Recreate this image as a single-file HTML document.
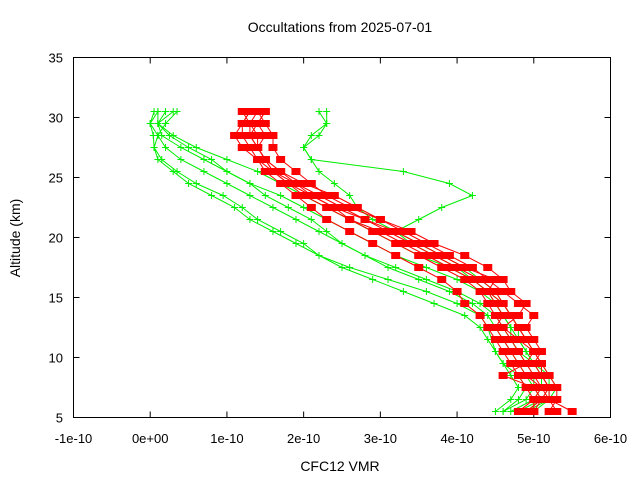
<!DOCTYPE html>
<html><head><meta charset="utf-8"><style>
body{margin:0;background:#fff}
svg{display:block;font-family:"Liberation Sans",sans-serif}
</style></head><body>
<svg id="chart" width="640" height="480" viewBox="0 0 640 480">
<rect width="640" height="480" fill="#fff"/>
<text x="340" y="32" font-size="14" text-anchor="middle">Occultations from 2025-07-01</text>
<text x="340" y="471" font-size="14" text-anchor="middle">CFC12 VMR</text>
<text x="20" y="238" font-size="14" text-anchor="middle" transform="rotate(-90 20 238)">Altitude (km)</text>
<g id="axes"></g>
<g id="marks"></g>
<rect x="73.5" y="57.5" width="537" height="360" fill="none" stroke="#000" stroke-width="1"/>
</svg>
<script>
const xTicks=[-1,0,1,2,3,4,5,6];
const xTickLabels=["-1e-10","0e+00","1e-10","2e-10","3e-10","4e-10","5e-10","6e-10"];
const yTicks=[5,10,15,20,25,30,35];
const altitudes=[5.5,6.5,7.5,8.5,9.5,10.5,11.5,12.5,13.5,14.5,15.5,16.5,17.5,18.5,19.5,20.5,21.5,22.5,23.5,24.5,25.5,26.5,27.5,28.5,29.5,30.5];
const green1=[4.6,4.8,4.9,4.8,4.6,4.5,4.4,4.3,4.1,3.7,3.3,2.9,2.5,2.2,2.0,1.7,1.4,1.2,0.95,0.6,0.35,0.15,0.05,0.04,0.0,0.05];
const green2=[4.6,4.9,5.0,5.0,4.9,4.8,4.7,4.6,4.5,4.3,4.0,3.6,3.2,2.8,2.5,2.2,1.9,1.6,1.3,1.0,0.7,0.4,0.2,0.1,0.0,0.1];
const green3=[4.7,5.0,5.1,5.1,5.0,4.9,4.8,4.7,4.6,4.5,4.3,4.0,3.6,3.2,2.9,2.6,2.3,2.0,1.7,1.3,1.0,0.7,0.4,0.15,0.1,0.2];
const green4=[4.8,5.1,5.2,5.2,5.1,5.0,4.9,4.8,4.7,4.6,4.4,4.2,3.9,3.5,3.2,2.9,2.6,2.3,2.0,1.7,1.4,1.0,0.6,0.3,0.1,0.3];
const green5=[4.9,5.2,5.2,5.1,5.0,4.8,4.7,4.7,4.6,4.5,4.4,4.2,4.0,3.7,3.4,3.2,3.5,3.8,4.2,3.9,3.3,2.1,2.0,2.1,2.3,2.3];
const green6=[4.5,4.7,4.8,4.7,4.6,4.5,4.45,4.4,4.3,4.0,3.6,3.1,2.6,2.2,1.9,1.6,1.3,1.1,0.8,0.5,0.3,0.1,0.05,0.1,0.2,0.35];
const green7=[4.9,5.1,5.0,4.9,4.8,4.7,4.6,4.5,4.4,4.2,3.9,3.5,3.1,2.8,2.5,2.3,2.1,1.8,1.5,1.3,1.0,0.8,0.5,0.25,0.1,0.1];
const green8=[5.0,5.2,5.3,5.2,5.0,4.9,4.8,4.8,4.7,4.6,4.5,4.3,4.1,3.8,3.5,3.2,2.9,2.7,2.6,2.4,2.2,2.1,2.0,2.2,2.3,2.2];
const red1=[4.9,5.1,5.2,5.1,5.1,5.0,4.9,4.8,4.7,4.6,4.4,4.2,3.9,3.6,3.3,3.0,2.6,2.3,2.0,1.8,1.6,1.5,1.4,1.3,1.3,1.2];
const red2=[5.2,5.3,5.3,5.2,5.1,5.0,4.9,4.8,4.7,4.6,4.5,4.3,4.0,3.7,3.4,3.1,2.8,2.5,2.2,1.9,1.7,1.5,1.4,1.4,1.3,1.4];
const red3=[5.5,5.2,5.1,5.0,4.9,4.8,4.7,4.6,4.5,4.4,4.3,4.1,3.8,3.5,3.2,2.9,2.6,2.4,2.1,1.8,1.6,1.4,1.3,1.2,1.2,1.3];
const red4=[5.0,5.1,5.0,4.6,4.9,5.0,4.8,4.6,4.8,4.9,4.7,4.6,4.4,4.1,3.7,3.4,3.0,2.7,2.4,2.0,1.7,1.5,1.4,1.3,1.4,1.5];
const red5=[5.3,5.2,5.2,5.1,5.0,5.1,5.0,4.9,5.0,4.8,4.6,4.4,4.2,3.9,3.6,3.3,3.0,2.6,2.3,2.1,1.9,1.7,1.6,1.6,1.5,1.4];
const red6=[5.0,5.0,4.9,4.8,4.7,4.6,4.5,4.4,4.3,4.1,4.0,3.8,3.5,3.2,2.9,2.6,2.3,2.1,1.9,1.7,1.5,1.4,1.2,1.1,1.2,1.3];
const red7=[4.8,5.0,5.1,4.9,4.8,4.7,4.6,4.5,4.6,4.5,4.4,4.5,4.1,3.8,3.5,3.2,2.8,2.4,2.1,1.9,1.6,1.5,1.4,1.5,1.4,1.5];
const greenSeries=[green1,green2,green3,green4,green5,green6,green7,green8];
const redSeries=[red1,red2,red3,red4,red5,red6,red7];

const NS="http://www.w3.org/2000/svg";
const X0=73.5,X1=610.5,Y0=417.5,Y1=57.5;
function xs(v){return X0+(v+1)/7*(X1-X0);}
function ys(v){return Y0-(v-5)/30*(Y0-Y1);}
function mk(tag,attrs,parent){const e=document.createElementNS(NS,tag);for(const k in attrs)e.setAttribute(k,attrs[k]);parent.appendChild(e);return e;}
const axes=document.getElementById('axes'),marks=document.getElementById('marks');
xTicks.forEach((t,i)=>{
  const x=xs(t);
  const l1=mk('line',{x1:x,x2:x,y1:Y0,y2:Y0-6,stroke:'#000'},axes);
  
  
  const l2=mk('line',{x1:x,x2:x,y1:Y1,y2:Y1+6,stroke:'#000'},axes);
  
  
  const tx=mk('text',{x:x,y:443,'font-size':13,'text-anchor':'middle'},axes);
  tx.textContent=xTickLabels[i];
  
  
});
yTicks.forEach(t=>{
  const y=ys(t);
  const l1=mk('line',{x1:X0,x2:X0+6,y1:y,y2:y,stroke:'#000'},axes);
  
  
  const l2=mk('line',{x1:X1,x2:X1-6,y1:y,y2:y,stroke:'#000'},axes);
  
  
  const tx=mk('text',{x:63,y:y+5,'font-size':13,'text-anchor':'end'},axes);
  tx.textContent=String(t);
  
  
});
greenSeries.forEach((s,k)=>{
  const pts=s.map((v,i)=>xs(v).toFixed(1)+','+ys(altitudes[i]).toFixed(1)).join(' ');
  const pl=mk('polyline',{points:pts,fill:'none',stroke:'#00ee00','stroke-width':1},marks);
  
  
  s.forEach((v,i)=>{
    const x=xs(v),y=ys(altitudes[i]);
    const p=mk('path',{d:`M${x-3.5},${y}H${x+3.5}M${x},${y-3.5}V${y+3.5}`,stroke:'#00ee00','stroke-width':1},marks);
    
    
  });
});
redSeries.forEach((s,k)=>{
  const pts=s.map((v,i)=>xs(v).toFixed(1)+','+ys(altitudes[i]).toFixed(1)).join(' ');
  const pl=mk('polyline',{points:pts,fill:'none',stroke:'#ff0000','stroke-width':1},marks);
  
  
  s.forEach((v,i)=>{
    const x=xs(v),y=ys(altitudes[i]);
    const r=mk('rect',{x:x-4.5,y:y-3.5,width:9,height:7,fill:'#ff0000'},marks);
    
    
  });
});
</script>
</body></html>
